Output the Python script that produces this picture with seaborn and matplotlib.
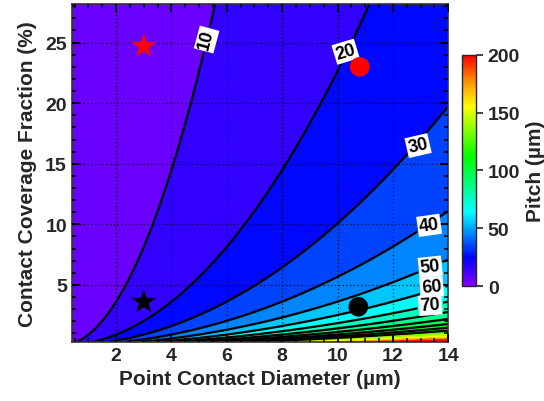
import numpy as np
import matplotlib
matplotlib.use("Agg")
import matplotlib.pyplot as plt
import seaborn as sns
import pandas as pd
from matplotlib.colors import LinearSegmentedColormap, Normalize
from matplotlib.ticker import MultipleLocator

sns.set_theme(style="ticks")
plt.rcParams['font.family'] = ['Liberation Sans', 'DejaVu Sans']
plt.rcParams['font.weight'] = 'bold'

# domain of the map
diameter_range = [0.4, 14.0]        # µm
coverage_range = [0.3, 28.2]        # %
# pitch of a hexagonal array of point contacts: p = d * sqrt(pi / (2*sqrt(3) * f))
line_levels = [10, 20, 30, 40, 50, 60, 70, 80, 90, 100, 110, 120]
label_levels = [10, 20, 30, 40, 50, 60, 70]
label_positions = [(5.27, 25.25), (10.29, 24.25), (12.91, 16.5), (13.31, 9.92),
                   (13.35, 6.5), (13.4, 4.83), (13.35, 3.33)]
label_rotations = [75, 17, 13, 8, 6, 5, 4]
cbar_ticks = [0, 50, 100, 150, 200]

marker_x = [3.0, 10.8, 3.0, 10.75]
marker_y = [24.7, 23.0, 3.6, 3.2]
marker_shape = ['star', 'circle', 'star', 'circle']
marker_color = ['red', 'red', 'black', 'black']

d = np.linspace(diameter_range[0], diameter_range[1], 400)
f = np.linspace(coverage_range[0], coverage_range[1], 400)
D, F = np.meshgrid(d, f)
P = D * np.sqrt(np.pi / (2 * np.sqrt(3) * F / 100.0))

cmap = LinearSegmentedColormap.from_list(
    "idl_rainbow",
    [(0.0, '#8400ff'), (0.12, '#0000ff'), (0.32, '#00ffff'),
     (0.56, '#00ff00'), (0.78, '#ffff00'), (0.9, '#ff8000'), (1.0, '#ff0000')])
norm = Normalize(0, 200)

fig = plt.figure(figsize=(5.44, 4.02), dpi=100)
ax = fig.add_axes([0.132, 0.147, 0.692, 0.841])
ax.set_axisbelow(False)

fill_levels = np.arange(0, 260, 10)
ax.contourf(D, F, P, levels=fill_levels, cmap=cmap, norm=norm, extend='max', zorder=0)
cs = ax.contour(D, F, P, levels=line_levels, colors='black', linewidths=1.6, zorder=1)
labels = ax.clabel(cs, levels=label_levels, manual=label_positions, inline=True,
                   fmt='%d', fontsize=13, inline_spacing=3)
for t, pos, rot in zip(labels, label_positions, label_rotations):
    t.set_fontweight('bold')
    t.set_fontsize(13)
    t.set_rotation(rot)
    t.set_position(pos)
    t.set_bbox(dict(facecolor='white', edgecolor='none', pad=1.2))
    t.set_zorder(4)

mdf = pd.DataFrame({'x': marker_x, 'y': marker_y, 'shape': marker_shape, 'color': marker_color})
for shape, m, s in [('star', '*', 360), ('circle', 'o', 200)]:
    sub = mdf[mdf['shape'] == shape]
    sns.scatterplot(data=sub, x='x', y='y', hue='color', palette={'red': 'red', 'black': 'black'},
                    marker=m, s=s, linewidth=0, legend=False, ax=ax, zorder=5)

ax.set_xlim(diameter_range)
ax.set_ylim(coverage_range)
ax.xaxis.set_major_locator(MultipleLocator(2))
ax.xaxis.set_minor_locator(MultipleLocator(0.5))
ax.yaxis.set_major_locator(MultipleLocator(5))
ax.yaxis.set_minor_locator(MultipleLocator(1))
ax.set_xticks([2, 4, 6, 8, 10, 12, 14])
ax.set_yticks([5, 10, 15, 20, 25])
ax.grid(True, which='major', color='black', linestyle=(0, (1, 2)), linewidth=0.9, alpha=0.8)
ax.tick_params(which='both', direction='in', top=True, right=True, color='black')
ax.tick_params(which='major', length=6, width=1.4, labelsize=14)
ax.tick_params(which='minor', length=3, width=1.1)
for lab in ax.get_xticklabels() + ax.get_yticklabels():
    lab.set_fontweight('bold')
for sp in ax.spines.values():
    sp.set_color('#333333')
    sp.set_linewidth(1.2)
ax.set_xlabel('Point Contact Diameter (µm)', fontsize=15, fontweight='bold', labelpad=4)
ax.set_ylabel('Contact Coverage Fraction (%)', fontsize=15, fontweight='bold', labelpad=6)

cax = fig.add_axes([0.849, 0.286, 0.026, 0.575])
sm = matplotlib.cm.ScalarMappable(norm=norm, cmap=cmap)
cb = fig.colorbar(sm, cax=cax, ticks=cbar_ticks)
cb.ax.tick_params(labelsize=14, length=5, width=1.2, direction='out')
for lab in cb.ax.get_yticklabels():
    lab.set_fontweight('bold')
cb.outline.set_linewidth(1)
cb.set_label('Pitch (µm)', fontsize=15, fontweight='bold', labelpad=4)

fig.savefig('out.png', dpi=100)
